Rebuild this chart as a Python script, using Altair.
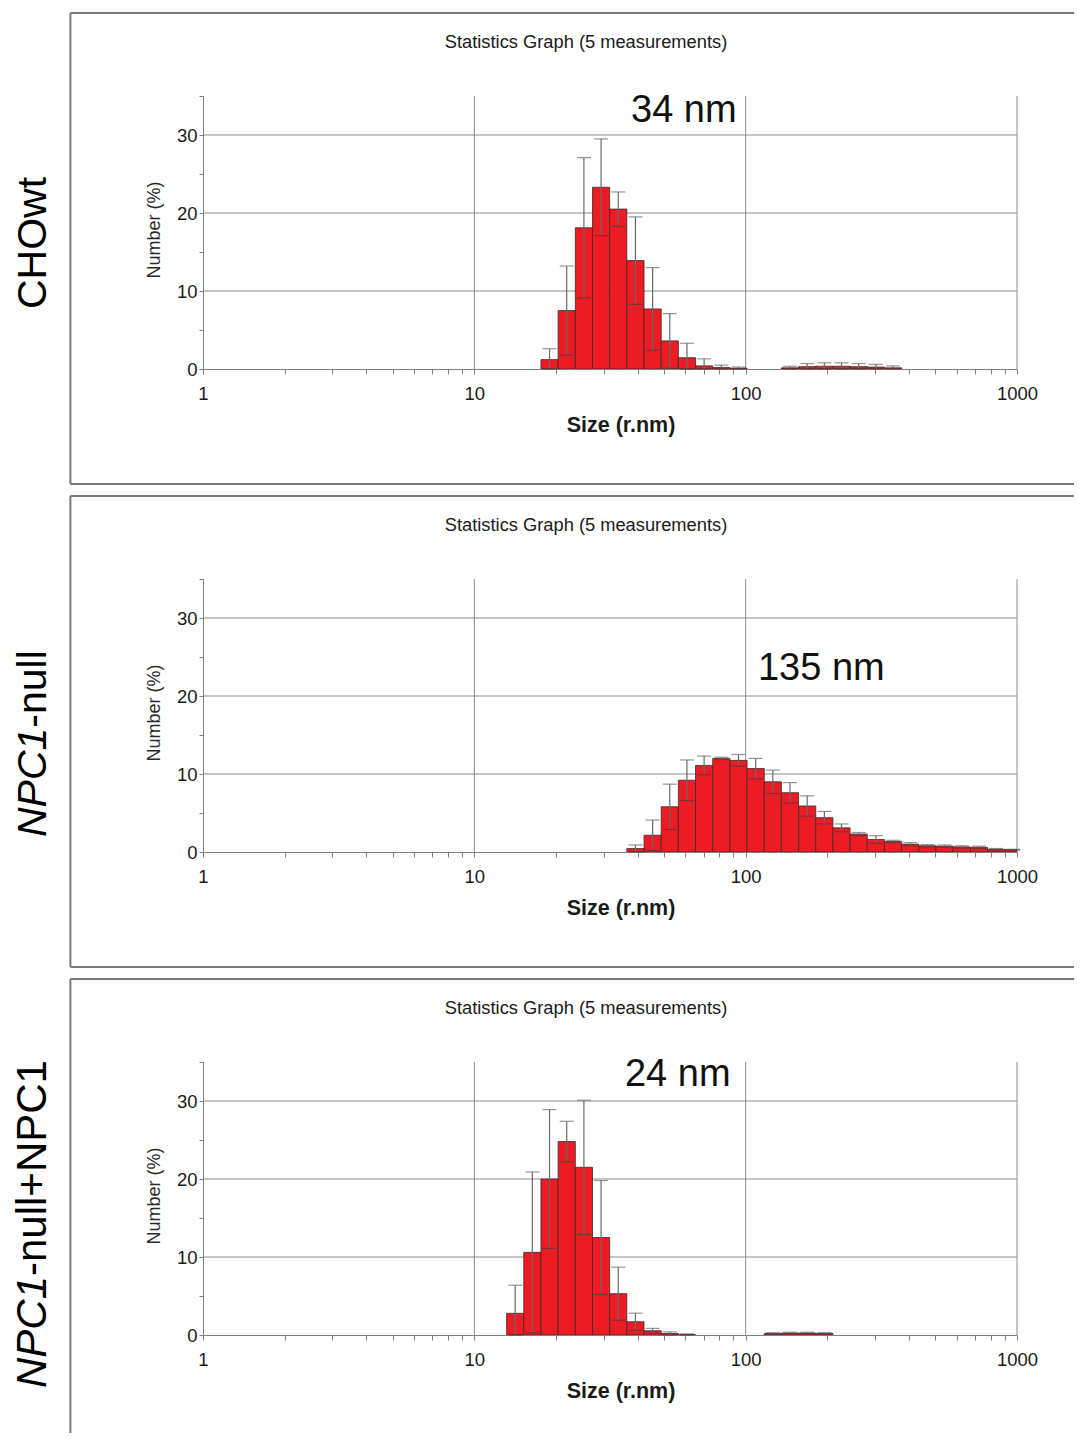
import math
import altair as alt
import pandas as pd

FONT = "Liberation Sans"
RED = "#ED1C24"
GRID = "#8c8c8c"
FRAME = "#7a7a7a"
AXC = "#808080"

# size classes (bin edges, r.nm) shared by the three distributions
bin_edges = [13.15, 15.21, 17.60, 20.36, 23.56, 27.26, 31.53, 36.48, 42.21, 48.83,
             56.49, 65.35, 75.61, 87.47, 101.2, 117.1, 135.4, 156.7, 181.3, 209.7,
             242.6, 280.7, 324.7, 375.7, 434.6, 502.8, 581.7, 673.0, 778.6, 900.7, 1042.0]

# CHOwt : mean number (%) and SD per size class
chowt_mean = [0, 0, 1.2, 7.5, 18.1, 23.3, 20.5, 13.9, 7.7, 3.6, 1.45, 0.4, 0.2, 0.1, 0, 0,
              0.15, 0.3, 0.35, 0.35, 0.3, 0.25, 0.15, 0, 0, 0, 0, 0, 0, 0]
chowt_sd = [0, 0, 1.4, 5.7, 9.0, 6.2, 2.2, 5.6, 5.3, 3.5, 1.85, 0.9, 0.3, 0.15, 0, 0,
            0.2, 0.4, 0.45, 0.45, 0.4, 0.35, 0.25, 0, 0, 0, 0, 0, 0, 0]

# NPC1-null
null_mean = [0, 0, 0, 0, 0, 0, 0,
             0.44, 2.15, 5.8, 9.2, 11.1, 12.0, 11.75, 10.7, 9.0, 7.6, 5.9, 4.4, 3.1, 2.3,
             1.6, 1.35, 1.0, 0.8, 0.75, 0.65, 0.6, 0.35, 0.3]
null_sd = [0, 0, 0, 0, 0, 0, 0,
           0.46, 1.95, 2.9, 2.6, 1.2, 0.15, 0.75, 1.3, 1.5, 1.3, 1.3, 0.8, 0.5, 0.2,
           0.5, 0.15, 0.2, 0.15, 0.15, 0.15, 0.15, 0.1, 0.05]

# NPC1-null+NPC1
rescue_mean = [2.78, 10.6, 20.0, 24.8, 21.5, 12.5, 5.3, 1.7, 0.55, 0.2, 0.05,
               0, 0, 0, 0, 0.2, 0.25, 0.25, 0.2, 0, 0, 0, 0, 0, 0, 0, 0, 0, 0, 0]
rescue_sd = [3.6, 10.3, 8.9, 2.6, 8.6, 7.3, 3.4, 1.1, 0.3, 0.2, 0.1,
             0, 0, 0, 0, 0.1, 0.1, 0.1, 0.1, 0, 0, 0, 0, 0, 0, 0, 0, 0, 0, 0]

peak_labels = ["34 nm", "135 nm", "24 nm"]
peak_label_x = [37.8, 111.0, 35.9]
peak_label_y = [31.7, 22.05, 31.9]

x_ticks = [1, 2, 3, 4, 5, 6, 7, 8, 9, 10, 20, 30, 40, 50, 60, 70, 80, 90,
           100, 200, 300, 400, 500, 600, 700, 800, 900, 1000]
x_labels = [1, 10, 100, 1000]
y_ticks = [0, 5, 10, 15, 20, 25, 30, 35]
y_labels = [0, 10, 20, 30]
h_grid = [10, 20, 30]
v_grid = [10, 100, 1000]

W, H = 814, 273
xscale = alt.Scale(type="log", domain=[1, 1000])
yscale = alt.Scale(domain=[0, 35])
one = pd.DataFrame({"a": [0]})


def bars_df(mean, sd):
    rows = []
    for i, (m, s) in enumerate(zip(mean, sd)):
        if m <= 0:
            continue
        lo, hi = bin_edges[i], bin_edges[i + 1]
        rows.append(dict(lo=lo, hi=min(hi, 1000), mid=math.sqrt(lo * hi), v=m, zero=0,
                         elo=max(m - s, 0), ehi=m + s))
    return pd.DataFrame(rows)


xaxis = alt.Axis(values=x_ticks, format="d",
                 labelExpr="indexof(%s, datum.value) >= 0 ? datum.label : ''" % str(x_labels),
                 title="", grid=False, tickSize=5, tickColor=AXC, domainColor=AXC,
                 labelFont=FONT, labelFontSize=18.5, labelColor="#1a1a1a", labelPadding=10,
                 labelFlush=False, labelOverlap=False)
yaxis = alt.Axis(values=y_ticks,
                 labelExpr="indexof(%s, datum.value) >= 0 ? datum.label : ''" % str(y_labels),
                 title="", grid=False, tickSize=4, tickColor=AXC, domainColor=AXC,
                 labelFont=FONT, labelFontSize=18.5, labelColor="#1a1a1a", labelPadding=2,
                 labelFlush=False, labelOverlap=False)


def X(f):
    return alt.X(f, scale=xscale, axis=xaxis)


def Y(f):
    return alt.Y(f, scale=yscale, axis=yaxis)


def txt(text, x, y, size, angle=0, align="center", baseline="middle", weight="normal",
        style="normal", color="#1a1a1a"):
    return alt.Chart(one).mark_text(text=text, fontSize=size, angle=angle, align=align,
                                    baseline=baseline, fontWeight=weight, fontStyle=style,
                                    font=FONT, color=color).encode(
        x=alt.value(x), y=alt.value(y))


def rule(x, x2, y, y2, color=FRAME, width=2):
    return alt.Chart(one).mark_rule(color=color, strokeWidth=width).encode(
        x=alt.value(x), x2=alt.value(x2), y=alt.value(y), y2=alt.value(y2))


def panel(idx, mean, sd, side_label, last=False, first=False, side_size=41):
    df = bars_df(mean, sd)
    hg = alt.Chart(pd.DataFrame({"g": h_grid})).mark_rule(color=GRID, strokeWidth=1).encode(
        y=Y("g:Q"))
    vg = alt.Chart(pd.DataFrame({"g": v_grid})).mark_rule(color=GRID, strokeWidth=1).encode(
        x=X("g:Q"))
    base = alt.Chart(df)
    bars = base.mark_rect(fill=RED, stroke="#3a2a2a", strokeWidth=0.8, clip=True).encode(
        x=X("lo:Q"), x2="hi:Q", y=Y("v:Q"), y2="zero:Q")
    err = base.mark_rule(color="#6a6a6a", strokeWidth=1.2).encode(
        x=X("mid:Q"), y=Y("elo:Q"), y2="ehi:Q")
    cap_hi = base.mark_tick(orient="horizontal", size=14, thickness=1.2, color="#6a6a6a").encode(
        x=X("mid:Q"), y=Y("ehi:Q"))
    cap_lo = base.mark_tick(orient="horizontal", size=14, thickness=1.2, color="#4a3a3a").encode(
        x=X("mid:Q"), y=Y("elo:Q"))
    ann_df = pd.DataFrame({"t": [peak_labels[idx]], "ax": [peak_label_x[idx]],
                           "ay": [peak_label_y[idx]]})
    ann = alt.Chart(ann_df).mark_text(fontSize=38, align="left", baseline="alphabetic",
                                      font=FONT, color="#111111").encode(
        x=X("ax:Q"), y=Y("ay:Q"), text="t:N")

    layers = [hg, vg, bars, err, cap_hi, cap_lo, ann,
              txt("Statistics Graph (5 measurements)", 383, -53, 18.3),
              txt("Number (%)", -48, 134, 18, angle=270, color="#2a2a2a"),
              txt("Size (r.nm)", 418, 330, 21.5, weight="bold")]
    # frame box
    bottom = 371 if last else 388
    layers.append(rule(-132.6, -132.6, -83, bottom))
    layers.append(rule(-132.6, 871, -83, -83))
    if not last:
        layers.append(rule(-132.6, 871, bottom, bottom))
    if first:
        layers.append(rule(-194.0, -193.0, -86.5, -86.5, color="#ffffff", width=1))
    # side labels
    for (t, italic, ypos, align) in side_label:
        layers.append(txt(t, -157.3, ypos, side_size, angle=270, align=align,
                          baseline="alphabetic", style="italic" if italic else "normal",
                          color="#000000"))
    return alt.layer(*layers).properties(width=W, height=H)


p1 = panel(0, chowt_mean, chowt_sd, [("CHOwt", False, 147, "center")], first=True)
p2 = panel(1, null_mean, null_sd, [("NPC1", True, 258, "left"), ("-null", False, 148.7, "left")])
p3 = panel(2, rescue_mean, rescue_sd,
           [("NPC1", True, 326, "left"), ("-null+NPC1", False, 214, "left")],
           last=True, side_size=42)

chart = alt.vconcat(p1, p2, p3, spacing=210, bounds="flush").properties(
    padding=0, background="#ffffff").configure_view(stroke="transparent")

chart.save("out.html", embed_options={"renderer": "svg", "actions": False})
